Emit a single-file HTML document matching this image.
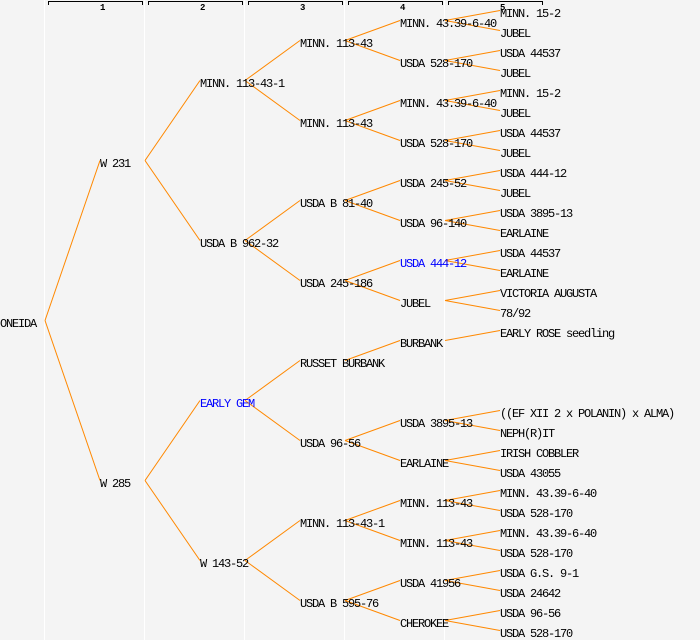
<!DOCTYPE html>
<html><head><meta charset="utf-8"><style>
html,body{margin:0;padding:0;background:#f4f4f4;}
svg{display:block;}
text{font-family:"Liberation Mono",monospace;font-size:12px;letter-spacing:-1.2px;fill:#000;}
.h{font-size:9px;letter-spacing:0;font-weight:bold;}
.b{fill:#0000ff;}
line{stroke:#ff8800;stroke-width:1;}
</style></head><body>
<svg width="700" height="640" viewBox="0 0 700 640" xmlns="http://www.w3.org/2000/svg">
<rect x="0" y="0" width="700" height="640" fill="#f4f4f4"/>
<g fill="#ffffff">
<rect x="44" y="0" width="1" height="640"/>
<rect x="144" y="0" width="1" height="640"/>
<rect x="244" y="0" width="1" height="640"/>
<rect x="344" y="0" width="1" height="640"/>
<rect x="444" y="0" width="1" height="640"/>
</g>
<g fill="#000">
<rect x="48" y="1" width="95" height="1"/><rect x="48" y="1" width="1" height="4"/><rect x="142" y="1" width="1" height="4"/>
<rect x="148" y="1" width="95" height="1"/><rect x="148" y="1" width="1" height="4"/><rect x="242" y="1" width="1" height="4"/>
<rect x="248" y="1" width="95" height="1"/><rect x="248" y="1" width="1" height="4"/><rect x="342" y="1" width="1" height="4"/>
<rect x="348" y="1" width="95" height="1"/><rect x="348" y="1" width="1" height="4"/><rect x="442" y="1" width="1" height="4"/>
<rect x="448" y="1" width="95" height="1"/><rect x="448" y="1" width="1" height="4"/><rect x="542" y="1" width="1" height="4"/>
</g>
<text class="h" x="100" y="10">1</text>
<text class="h" x="200" y="10">2</text>
<text class="h" x="300" y="10">3</text>
<text class="h" x="400" y="10">4</text>
<text class="h" x="500" y="10">5</text>

<g>
<line x1="45" y1="320.5" x2="100" y2="160.5"/>
<line x1="45" y1="320.5" x2="100" y2="480.5"/>
<line x1="145" y1="160.5" x2="200" y2="80.5"/>
<line x1="145" y1="160.5" x2="200" y2="240.5"/>
<line x1="145" y1="480.5" x2="200" y2="400.5"/>
<line x1="145" y1="480.5" x2="200" y2="560.5"/>
<line x1="245" y1="80.5" x2="300" y2="40.5"/>
<line x1="245" y1="80.5" x2="300" y2="120.5"/>
<line x1="245" y1="240.5" x2="300" y2="200.5"/>
<line x1="245" y1="240.5" x2="300" y2="280.5"/>
<line x1="245" y1="400.5" x2="300" y2="360.5"/>
<line x1="245" y1="400.5" x2="300" y2="440.5"/>
<line x1="245" y1="560.5" x2="300" y2="520.5"/>
<line x1="245" y1="560.5" x2="300" y2="600.5"/>
<line x1="345" y1="40.5" x2="400" y2="20.5"/>
<line x1="345" y1="40.5" x2="400" y2="60.5"/>
<line x1="345" y1="120.5" x2="400" y2="100.5"/>
<line x1="345" y1="120.5" x2="400" y2="140.5"/>
<line x1="345" y1="200.5" x2="400" y2="180.5"/>
<line x1="345" y1="200.5" x2="400" y2="220.5"/>
<line x1="345" y1="280.5" x2="400" y2="260.5"/>
<line x1="345" y1="280.5" x2="400" y2="300.5"/>
<line x1="345" y1="360.5" x2="400" y2="340.5"/>
<line x1="345" y1="440.5" x2="400" y2="420.5"/>
<line x1="345" y1="440.5" x2="400" y2="460.5"/>
<line x1="345" y1="520.5" x2="400" y2="500.5"/>
<line x1="345" y1="520.5" x2="400" y2="540.5"/>
<line x1="345" y1="600.5" x2="400" y2="580.5"/>
<line x1="345" y1="600.5" x2="400" y2="620.5"/>
<line x1="445" y1="20.5" x2="500" y2="10.5"/>
<line x1="445" y1="20.5" x2="500" y2="30.5"/>
<line x1="445" y1="60.5" x2="500" y2="50.5"/>
<line x1="445" y1="60.5" x2="500" y2="70.5"/>
<line x1="445" y1="100.5" x2="500" y2="90.5"/>
<line x1="445" y1="100.5" x2="500" y2="110.5"/>
<line x1="445" y1="140.5" x2="500" y2="130.5"/>
<line x1="445" y1="140.5" x2="500" y2="150.5"/>
<line x1="445" y1="180.5" x2="500" y2="170.5"/>
<line x1="445" y1="180.5" x2="500" y2="190.5"/>
<line x1="445" y1="220.5" x2="500" y2="210.5"/>
<line x1="445" y1="220.5" x2="500" y2="230.5"/>
<line x1="445" y1="260.5" x2="500" y2="250.5"/>
<line x1="445" y1="260.5" x2="500" y2="270.5"/>
<line x1="445" y1="300.5" x2="500" y2="290.5"/>
<line x1="445" y1="300.5" x2="500" y2="310.5"/>
<line x1="445" y1="340.5" x2="500" y2="330.5"/>
<line x1="445" y1="420.5" x2="500" y2="410.5"/>
<line x1="445" y1="420.5" x2="500" y2="430.5"/>
<line x1="445" y1="460.5" x2="500" y2="450.5"/>
<line x1="445" y1="460.5" x2="500" y2="470.5"/>
<line x1="445" y1="500.5" x2="500" y2="490.5"/>
<line x1="445" y1="500.5" x2="500" y2="510.5"/>
<line x1="445" y1="540.5" x2="500" y2="530.5"/>
<line x1="445" y1="540.5" x2="500" y2="550.5"/>
<line x1="445" y1="580.5" x2="500" y2="570.5"/>
<line x1="445" y1="580.5" x2="500" y2="590.5"/>
<line x1="445" y1="620.5" x2="500" y2="610.5"/>
<line x1="445" y1="620.5" x2="500" y2="630.5"/>
</g>

<text x="0" y="327">ONEIDA</text>
<text x="100" y="167">W 231</text>
<text x="100" y="487">W 285</text>
<text x="200" y="87">MINN. 113-43-1</text>
<text x="200" y="247">USDA B 962-32</text>
<text x="200" y="407" class="b">EARLY GEM</text>
<text x="200" y="567">W 143-52</text>
<text x="300" y="47">MINN. 113-43</text>
<text x="300" y="127">MINN. 113-43</text>
<text x="300" y="207">USDA B 81-40</text>
<text x="300" y="287">USDA 245-186</text>
<text x="300" y="367">RUSSET BURBANK</text>
<text x="300" y="447">USDA 96-56</text>
<text x="300" y="527">MINN. 113-43-1</text>
<text x="300" y="607">USDA B 595-76</text>
<text x="400" y="27">MINN. 43.39-6-40</text>
<text x="400" y="67">USDA 528-170</text>
<text x="400" y="107">MINN. 43.39-6-40</text>
<text x="400" y="147">USDA 528-170</text>
<text x="400" y="187">USDA 245-52</text>
<text x="400" y="227">USDA 96-140</text>
<text x="400" y="267" class="b">USDA 444-12</text>
<text x="400" y="307">JUBEL</text>
<text x="400" y="347">BURBANK</text>
<text x="400" y="427">USDA 3895-13</text>
<text x="400" y="467">EARLAINE</text>
<text x="400" y="507">MINN. 113-43</text>
<text x="400" y="547">MINN. 113-43</text>
<text x="400" y="587">USDA 41956</text>
<text x="400" y="627">CHEROKEE</text>
<text x="500" y="17">MINN. 15-2</text>
<text x="500" y="37">JUBEL</text>
<text x="500" y="57">USDA 44537</text>
<text x="500" y="77">JUBEL</text>
<text x="500" y="97">MINN. 15-2</text>
<text x="500" y="117">JUBEL</text>
<text x="500" y="137">USDA 44537</text>
<text x="500" y="157">JUBEL</text>
<text x="500" y="177">USDA 444-12</text>
<text x="500" y="197">JUBEL</text>
<text x="500" y="217">USDA 3895-13</text>
<text x="500" y="237">EARLAINE</text>
<text x="500" y="257">USDA 44537</text>
<text x="500" y="277">EARLAINE</text>
<text x="500" y="297">VICTORIA AUGUSTA</text>
<text x="500" y="317">78/92</text>
<text x="500" y="337">EARLY ROSE seedling</text>
<text x="500" y="417">((EF XII 2 x POLANIN) x ALMA)</text>
<text x="500" y="437">NEPH(R)IT</text>
<text x="500" y="457">IRISH COBBLER</text>
<text x="500" y="477">USDA 43055</text>
<text x="500" y="497">MINN. 43.39-6-40</text>
<text x="500" y="517">USDA 528-170</text>
<text x="500" y="537">MINN. 43.39-6-40</text>
<text x="500" y="557">USDA 528-170</text>
<text x="500" y="577">USDA G.S. 9-1</text>
<text x="500" y="597">USDA 24642</text>
<text x="500" y="617">USDA 96-56</text>
<text x="500" y="637">USDA 528-170</text>
</svg>
</body></html>
